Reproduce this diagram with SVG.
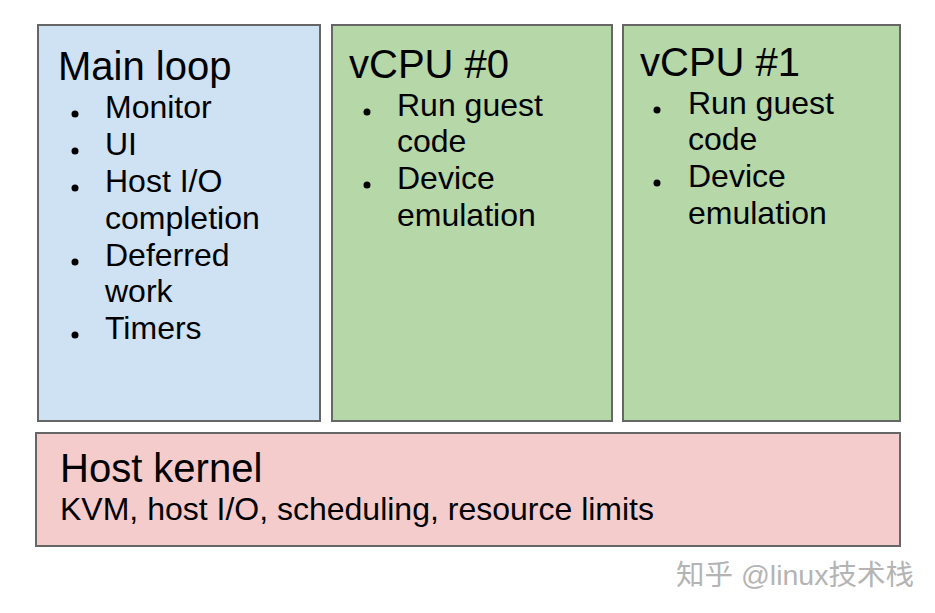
<svg xmlns="http://www.w3.org/2000/svg" width="935" height="613" viewBox="0 0 935 613">
<style>
.box{stroke:#666;stroke-width:2}
text{font-family:"Liberation Sans",Arial,sans-serif;fill:#000}
.t{font-size:40px}
.i{font-size:32px}
.wm{font-family:"Liberation Sans","Noto Sans CJK SC",sans-serif;font-size:28.5px;fill:#b4b4b4}
</style>
<rect width="935" height="613" fill="#fff"/>
<g id="main-loop">
<rect class="box" x="38" y="25" width="282" height="396" fill="#cfe2f3"/>
<text class="t" x="58" y="80">Main loop</text>
<circle cx="75" cy="114" r="3.5"/><text class="i" x="105" y="118">Monitor</text>
<circle cx="75" cy="151" r="3.5"/><text class="i" x="105" y="155">UI</text>
<circle cx="75" cy="188" r="3.5"/><text class="i" x="105" y="192">Host I/O</text>
<text class="i" x="105" y="229">completion</text>
<circle cx="75" cy="262" r="3.5"/><text class="i" x="105" y="266">Deferred</text>
<text class="i" x="105" y="302">work</text>
<circle cx="75" cy="335" r="3.5"/><text class="i" x="105" y="339">Timers</text>
</g>
<g id="vcpu0">
<rect class="box" x="332" y="25" width="280" height="396" fill="#b6d7a8"/>
<text class="t" x="349" y="78">vCPU #0</text>
<circle cx="367" cy="112" r="3.5"/><text class="i" x="397" y="116">Run guest</text>
<text class="i" x="397" y="152">code</text>
<circle cx="367" cy="185" r="3.5"/><text class="i" x="397" y="189">Device</text>
<text class="i" x="397" y="226">emulation</text>
</g>
<g id="vcpu1">
<rect class="box" x="623" y="25" width="277" height="396" fill="#b6d7a8"/>
<text class="t" x="640" y="76">vCPU #1</text>
<circle cx="657" cy="110" r="3.5"/><text class="i" x="688" y="114">Run guest</text>
<text class="i" x="688" y="150">code</text>
<circle cx="657" cy="183" r="3.5"/><text class="i" x="688" y="187">Device</text>
<text class="i" x="688" y="224">emulation</text>
</g>
<g id="host-kernel">
<rect class="box" x="36" y="433" width="864" height="113" fill="#f4cccc"/>
<text class="t" x="60" y="482">Host kernel</text>
<text class="i" x="60" y="520">KVM, host I/O, scheduling, resource limits</text>
</g>
<g id="connectors"></g>
<text class="wm" x="676" y="585">知乎 @linux技术栈</text>
</svg>
